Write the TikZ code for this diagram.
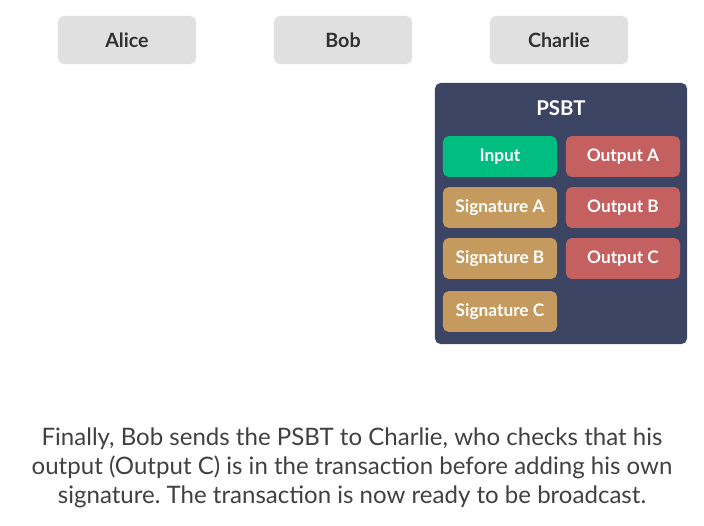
\documentclass[tikz,border=0pt]{standalone}
\usepackage{fontspec}
\setmainfont{Lato}
\usepackage{xcolor}
\usetikzlibrary{positioning}
\definecolor{pgray} {RGB}{224,224,224}
\definecolor{ptext} {RGB}{ 50, 50, 50}
\definecolor{navy}  {RGB}{ 59, 68, 99}
\definecolor{ingrn} {RGB}{  0,190,128}
\definecolor{outred}{RGB}{197, 96, 96}
\definecolor{sigtan}{RGB}{196,154, 94}
\definecolor{captx} {RGB}{ 64, 64, 64}
\frenchspacing
\tikzset{
  % grey party box
  PartyB/.style={rectangle,rounded corners=4pt,fill=pgray,
                 minimum width=3.45cm,minimum height=1.2cm,
                 font=\fontsize{14}{16}\selectfont\bfseries,text=ptext},
  % coloured field inside the PSBT
  FieldB/.style={rectangle,rounded corners=4pt,fill=#1,
                 minimum width=2.85cm,minimum height=1.02cm,
                 font=\fontsize{12.3}{14}\selectfont\bfseries,text=white},
  FieldB/.default=outred,
}
\begin{document}
\begin{tikzpicture}[x=0.025cm,y=-0.025cm]
  \useasboundingbox (0,0) rectangle (704,526);
  % parties
  \node[PartyB] at (127,40) (alice) {Alice};
  \node[PartyB] at (343,40) (bob) {Bob};
  \node[PartyB] at (559,40) (charlie) {Charlie};
  % the PSBT
  \node[rectangle,rounded corners=4pt,fill=navy,
        minimum width=6.3cm,minimum height=6.525cm] at (561,213.5) (psbt) {};
  \node[font=\fontsize{14.5}{16}\selectfont\bfseries,text=white]
        at (561,108) (title) {PSBT};
  \node[FieldB=ingrn]  at (500,156.5) (in)   {Input};
  \node[FieldB]        at (623,156.5) (outa) {Output A};
  \node[FieldB=sigtan] at (500,207.5) (siga) {Signature A};
  \node[FieldB]        at (623,207.5) (outb) {Output B};
  \node[FieldB=sigtan] at (500,258.5) (sigb) {Signature B};
  \node[FieldB]        at (623,258.5) (outc) {Output C};
  \node[FieldB=sigtan] at (500,311.5) (sigc) {Signature C};
  % caption
  \node[text=captx,align=center,font=\fontsize{17.1}{20.8}\selectfont]
        at (352,468) (cap)
        {Finally, Bob sends the PSBT to Charlie, who checks that his\\
         output (Output C) is in the transaction before adding his own\\
         signature. The transaction is now ready to be broadcast.};
\end{tikzpicture}
\end{document}
